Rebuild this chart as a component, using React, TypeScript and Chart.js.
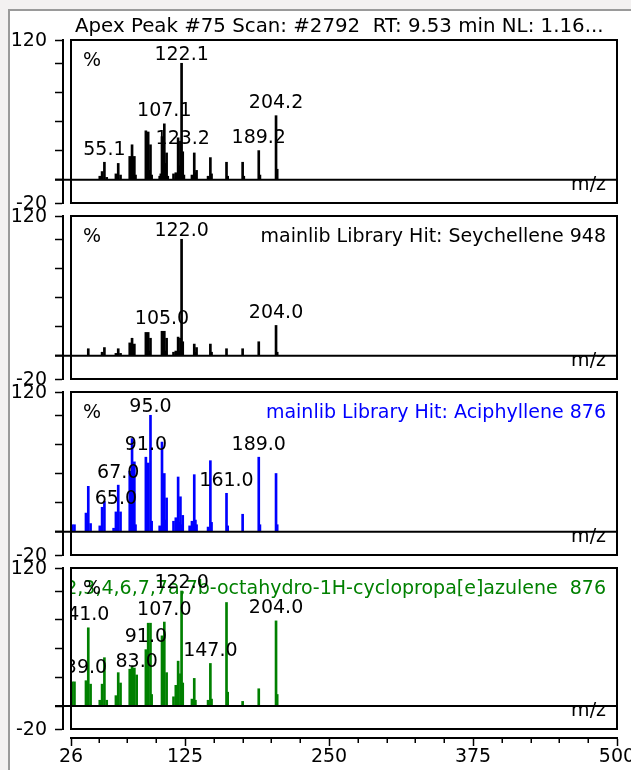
import React, { useEffect, useRef } from 'react';
import { Chart, registerables } from 'chart.js';

Chart.register(...registerables);

// ---------- axes ----------
const X_MIN = 26;
const X_MAX = 500;
const X_TICKS = [26, 50, 75, 100, 125, 150, 175, 200, 225, 250, 275, 300, 325, 350, 375, 400, 425, 450, 475, 500];
const X_TICK_LABELS = [26, 125, 250, 375, 500];
const Y_MIN = -20;
const Y_MAX = 120;
const Y_TICKS = [-20, 0, 25, 50, 75, 100, 120];
const Y_TICK_LABELS = [-20, 120];

const TITLE = 'Apex Peak #75 Scan: #2792  RT: 9.53 min NL: 1.16...';
const AXIS_UNIT = 'm/z';
const PERCENT = '%';

// ---------- panel 1: measured spectrum ----------
const p1Mz = [51, 53, 55, 57, 65, 67, 69, 77, 78, 79, 80, 81, 82, 91, 92, 93, 94, 95, 96, 103, 104, 105, 106, 107, 108, 109, 110, 115, 117, 119, 120, 121, 122, 123, 124, 131, 133, 134, 135, 145, 147, 148, 161, 162, 175, 176, 189, 190, 204, 205];
const p1Int = [3, 7, 15, 2, 5, 14, 4, 20, 5, 30, 10, 20, 4, 42, 12, 41, 8, 30, 4, 3, 5, 37, 8, 48, 14, 23, 3, 5, 6, 36, 12, 33, 100, 24, 4, 4, 23, 6, 8, 3, 19, 5, 15, 3, 15, 3, 25, 4, 55, 9];
const p1LabelMz = [55, 107, 122, 123, 189, 204];
const p1LabelText = ['55.1', '107.1', '122.1', '123.2', '189.2', '204.2'];
const p1Header = '';

// ---------- panel 2: Seychellene ----------
const p2Mz = [41, 53, 55, 65, 67, 69, 77, 79, 80, 81, 91, 92, 93, 94, 95, 105, 106, 107, 108, 109, 115, 117, 119, 120, 121, 122, 123, 133, 134, 135, 147, 148, 161, 175, 189, 204, 205];
const p2Int = [6, 3, 7, 2, 6, 2, 11, 15, 4, 10, 20, 5, 20, 4, 15, 21, 5, 21, 4, 15, 3, 4, 16, 4, 15, 100, 12, 10, 3, 7, 10, 3, 6, 6, 12, 26, 3];
const p2LabelMz = [105, 122, 204];
const p2LabelText = ['105.0', '122.0', '204.0'];
const p2Header = 'mainlib Library Hit: Seychellene 948';

// ---------- panel 3: Aciphyllene ----------
const p3Mz = [27, 29, 39, 41, 43, 51, 53, 55, 63, 65, 67, 69, 77, 78, 79, 80, 81, 82, 91, 92, 93, 95, 96, 103, 105, 106, 107, 108, 109, 115, 117, 119, 120, 121, 122, 123, 129, 131, 133, 134, 135, 145, 147, 148, 161, 162, 175, 189, 190, 204, 205];
const p3Int = [6, 6, 16, 39, 7, 5, 21, 26, 3, 17, 40, 17, 52, 8, 80, 10, 60, 6, 64, 12, 59, 100, 9, 5, 77, 12, 50, 10, 29, 9, 12, 47, 8, 30, 6, 14, 5, 9, 49, 10, 6, 4, 61, 8, 33, 5, 15, 64, 6, 50, 6];
const p3LabelMz = [65, 67, 91, 95, 161, 189];
const p3LabelText = ['65.0', '67.0', '91.0', '95.0', '161.0', '189.0'];
const p3Header = 'mainlib Library Hit: Aciphyllene 876';

// ---------- panel 4: octahydro-cyclopropa[e]azulene ----------
const p4Mz = [27, 29, 39, 41, 43, 51, 53, 55, 57, 65, 67, 69, 77, 79, 81, 83, 91, 92, 93, 95, 96, 105, 106, 107, 109, 115, 117, 119, 121, 122, 123, 131, 133, 134, 145, 147, 148, 161, 162, 175, 189, 204, 205];
const p4Int = [21, 21, 22, 68, 19, 5, 19, 42, 5, 9, 29, 20, 32, 34, 33, 27, 49, 12, 72, 72, 10, 61, 12, 73, 29, 8, 18, 39, 28, 100, 20, 6, 24, 5, 5, 37, 6, 90, 12, 4, 15, 74, 10];
const p4LabelMz = [39, 41, 83, 91, 107, 122, 147, 204];
const p4LabelText = ['39.0', '41.0', '83.0', '91.0', '107.0', '122.0', '147.0', '204.0'];
const p4Header = '2,3,4,6,7,7a,7b-octahydro-1H-cyclopropa[e]azulene  876';

const PANEL_COLORS = ['#000000', '#000000', '#0000ff', '#008000'];

const PANELS = [
  { mz: p1Mz, int: p1Int, labelMz: p1LabelMz, labelText: p1LabelText, header: p1Header },
  { mz: p2Mz, int: p2Int, labelMz: p2LabelMz, labelText: p2LabelText, header: p2Header },
  { mz: p3Mz, int: p3Int, labelMz: p3LabelMz, labelText: p3LabelText, header: p3Header },
  { mz: p4Mz, int: p4Int, labelMz: p4LabelMz, labelText: p4LabelText, header: p4Header },
];

// ---------- layout ----------
const W = 631;
const H = 770;
const FONT_FAMILY = '"DejaVu Sans", "Liberation Sans", Arial, sans-serif';
const FONT_SIZE = 19;
const BOX_TOP0 = 40;
const BOX_STEP = 176;
const BOX_H = 163;
const Y_AXIS_W = 63;
const GAP = 8;
const RIGHT_PAD = W - 617;

function Panel({ index }: { index: number }) {
  const ref = useRef<HTMLCanvasElement | null>(null);
  const isLast = index === PANELS.length - 1;
  const boxTop = BOX_TOP0 + BOX_STEP * index;
  const padTop = index === 0 ? BOX_TOP0 : 20;
  const canvasTop = boxTop - padTop;
  const canvasH = isLast ? H - canvasTop : padTop + BOX_H + 20;

  useEffect(() => {
    const canvas = ref.current;
    if (!canvas) return;
    const p = PANELS[index];
    const color = PANEL_COLORS[index];
    const font = `${FONT_SIZE}px ${FONT_FAMILY}`;

    const decor = {
      id: 'decor' + index,
      afterDatasetsDraw(chart: any) {
        const { ctx, chartArea: a } = chart;
        const xs = chart.scales.x;
        const ys = chart.scales.y;
        const y0 = ys.getPixelForValue(0);
        ctx.save();
        ctx.strokeStyle = '#000';
        ctx.lineWidth = 2;
        ctx.beginPath();
        ctx.moveTo(ys.right - 8, y0);
        ctx.lineTo(a.right, y0);
        ctx.stroke();
        ctx.strokeRect(a.left, a.top, a.right - a.left, a.bottom - a.top);

        // y tick labels
        ctx.fillStyle = '#000';
        ctx.font = font;
        ctx.textAlign = 'right';
        ctx.textBaseline = 'middle';
        Y_TICK_LABELS.forEach((v) => {
          ctx.fillText(String(v), ys.right - 16, ys.getPixelForValue(v) + 1);
        });

        if (isLast) {
          ctx.lineWidth = 1.5;
          ctx.beginPath();
          X_TICKS.forEach((v) => {
            if (X_TICK_LABELS.includes(v)) return;
            const px = Math.round(xs.getPixelForValue(v)) + 0.25;
            ctx.moveTo(px, xs.top);
            ctx.lineTo(px, xs.top + 5);
          });
          ctx.stroke();
        }

        if (index === 0) {
          ctx.fillStyle = '#000';
          ctx.font = `19.8px ${FONT_FAMILY}`;
          ctx.textAlign = 'left';
          ctx.textBaseline = 'alphabetic';
          ctx.fillText(TITLE, 75, 32);
        }

        ctx.beginPath();
        ctx.rect(a.left + 1, a.top + 1, a.right - a.left - 2, a.bottom - a.top - 2);
        ctx.clip();
        ctx.font = font;
        ctx.textBaseline = 'alphabetic';

        if (p.header) {
          ctx.fillStyle = color;
          ctx.textAlign = 'right';
          ctx.fillText(p.header, a.right - 11, a.top + 26);
        }
        ctx.fillStyle = '#000';
        ctx.textAlign = 'left';
        ctx.fillText(PERCENT, a.left + 12, a.top + 26);
        ctx.textAlign = 'right';
        ctx.fillText(AXIS_UNIT, a.right - 11, y0 + 10);

        ctx.textAlign = 'center';
        p.labelMz.forEach((m: number, k: number) => {
          const idx = p.mz.indexOf(m);
          const top = ys.getPixelForValue(p.int[idx]);
          const base = Math.max(top - 7.5, a.top + 20);
          ctx.fillText(p.labelText[k], xs.getPixelForValue(m), base);
        });
        ctx.restore();
      },
    };

    const scales: any = {
      x: {
        type: 'linear',
        min: X_MIN,
        max: X_MAX,
        offset: false,
        position: 'bottom',
        weight: 1,
        display: isLast,
        afterBuildTicks: (s: any) => {
          s.ticks = X_TICKS.map((v) => ({ value: v }));
        },
        ticks: {
          autoSkip: false,
          maxRotation: 0,
          minRotation: 0,
          padding: 0,
          color: '#000',
          font: { family: FONT_FAMILY, size: FONT_SIZE },
          callback: (v: number) => (X_TICK_LABELS.includes(v) ? String(v) : ''),
        },
        grid: {
          display: true,
          offset: false,
          drawOnChartArea: false,
          drawTicks: true,
          tickLength: 8,
          tickWidth: 1.5,
          tickColor: (c: any) => (c.tick && X_TICK_LABELS.includes(c.tick.value) ? '#000' : 'rgba(0,0,0,0)'),
        },
        border: { display: true, color: '#000', width: 2 },
        afterFit: (s: any) => {
          if (isLast) s.height = 32;
          s.paddingLeft = 0;
          s.paddingRight = 0;
        },
      },
      y: {
        type: 'linear',
        min: Y_MIN,
        max: Y_MAX,
        position: 'left',
        weight: 1,
        afterBuildTicks: (s: any) => {
          s.ticks = Y_TICKS.map((v) => ({ value: v }));
        },
        ticks: { display: false },
        grid: {
          display: true,
          drawOnChartArea: false,
          drawTicks: true,
          tickLength: 8,
          tickWidth: 1.5,
          tickColor: '#000',
        },
        border: { display: true, color: '#000', width: 2 },
        afterFit: (s: any) => {
          s.width = Y_AXIS_W;
          s.paddingTop = 0;
          s.paddingBottom = 0;
        },
      },
      ySpacer: {
        type: 'linear',
        position: 'left',
        weight: 0,
        min: 0,
        max: 1,
        grid: { display: false },
        border: { display: false },
        ticks: { display: false },
        afterFit: (s: any) => {
          s.width = GAP;
          s.paddingTop = 0;
          s.paddingBottom = 0;
        },
      },
    };
    if (isLast) {
      scales.xSpacer = {
        type: 'linear',
        position: 'bottom',
        weight: 0,
        min: 0,
        max: 1,
        grid: { display: false },
        border: { display: false },
        ticks: { display: false },
        afterFit: (s: any) => {
          s.height = 9;
          s.paddingLeft = 0;
          s.paddingRight = 0;
        },
      };
    }

    const chart = new Chart(canvas, {
      type: 'bar',
      data: {
        datasets: [
          {
            data: p.mz.map((m: number, k: number) => ({ x: m, y: p.int[k] })),
            backgroundColor: color,
            borderWidth: 0,
            barThickness: 2,
            grouped: false,
            xAxisID: 'x',
            yAxisID: 'y',
          } as any,
        ],
      },
      options: {
        responsive: false,
        animation: false,
        devicePixelRatio: 1,
        layout: {
          autoPadding: false,
          padding: { left: 0, right: RIGHT_PAD, top: padTop, bottom: isLast ? 0 : 20 },
        },
        plugins: { legend: { display: false }, tooltip: { enabled: false } },
        scales,
      } as any,
      plugins: [decor],
    });
    return () => chart.destroy();
  }, [index]);

  return (
    <canvas
      ref={ref}
      width={W}
      height={canvasH}
      style={{ position: 'absolute', left: 0, top: canvasTop, width: W, height: canvasH }}
    />
  );
}

export default function App() {
  return (
    <div
      style={{
        position: 'absolute',
        left: 0,
        top: 0,
        width: W,
        height: H,
        overflow: 'hidden',
        background: '#f3f1f1',
      }}
    >
      <div
        style={{
          position: 'absolute',
          left: 8,
          top: 9,
          width: W,
          height: H,
          borderLeft: '2px solid #9a9a9a',
          borderTop: '2px solid #9a9a9a',
          background: '#ffffff',
        }}
      />
      {PANELS.map((_, i) => (
        <Panel key={i} index={i} />
      ))}
    </div>
  );
}
